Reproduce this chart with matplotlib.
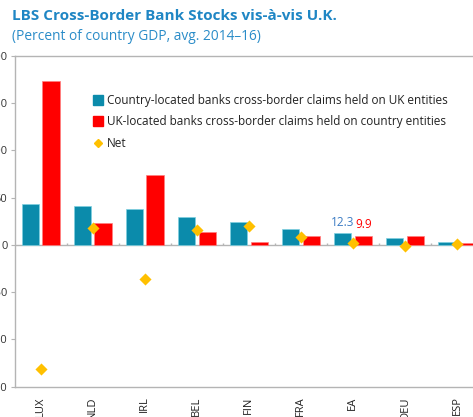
import numpy as np
import matplotlib
matplotlib.use("Agg")
import matplotlib.pyplot as plt
from matplotlib.lines import Line2D

plt.rcParams['font.family'] = ['Open Sans', 'DejaVu Sans']

countries = ["LUX", "NLD", "IRL", "BEL", "FIN", "FRA", "EA", "DEU", "ESP"]
country_claims = [43, 41, 38, 30, 24, 17, 12.3, 7.5, 3]
uk_claims = [174, 23, 74, 13.4, 3.2, 9.2, 9.9, 9.0, 2]
net = [-131, 18, -36, 16, 20, 8, 2.4, -1.5, 1]
yticks = [-150, -100, -50, 0, 50, 100, 150, 200]

BLUE = "#0b8bab"
RED = "#ff0000"
GOLD = "#ffc000"
GRID = "#b4b4b4"

fig = plt.figure(figsize=(4.73, 4.17), dpi=100)
W, H = 473, 417
ax = fig.add_axes([14.5 / W, (H - 386.7) / H, (483 - 14.5) / W, (386.7 - 56) / H])

x = np.arange(len(countries))
bw = 0.33
off = 0.2
ax.bar(x - off, country_claims, width=bw, color=BLUE, edgecolor="#7fd0e0", linewidth=0.5, zorder=2)
ax.bar(x + off, uk_claims, width=bw, color=RED, edgecolor="#ff8080", linewidth=0.5, zorder=2)
ax.scatter(x, net, marker="D", s=38, color=GOLD, zorder=3, linewidths=0)

ax.axhline(0, color=GRID, linewidth=1.0, zorder=1)
ax.vlines(np.arange(0.5, len(countries), 1), 0, 2.5, color=GRID, linewidth=1.0, zorder=1)

ax.set_xlim(-0.5, len(countries) - 0.5)
ax.set_ylim(yticks[0], yticks[-1])
ax.set_yticks(yticks)
ax.set_yticklabels([str(v) for v in yticks], fontsize=8, color="#333333")
ax.set_xticks(x)
ax.set_xticklabels(countries, rotation=90, fontsize=8, color="#222222", va="top")
ax.tick_params(axis="x", length=0, pad=7)
ax.tick_params(axis="y", length=3, color=GRID, pad=2)

for s in ["left", "top", "bottom", "right"]:
    ax.spines[s].set_color(GRID)
    ax.spines[s].set_linewidth(1.0)

# data labels for EA
ea = countries.index("EA")
ax.annotate(f"{country_claims[ea]:.1f}", (x[ea] - off, country_claims[ea]), xytext=(0, 3),
            textcoords="offset points", ha="center", va="bottom", fontsize=8.5, color="#3c7cc4")
ax.annotate(f"{uk_claims[ea]:.1f}", (x[ea] + off, uk_claims[ea]), xytext=(0, 3),
            textcoords="offset points", ha="center", va="bottom", fontsize=8.5, color=RED)

handles = [
    Line2D([], [], marker="s", linestyle="none", color=BLUE, markersize=6.5),
    Line2D([], [], marker="s", linestyle="none", color=RED, markersize=6.5),
    Line2D([], [], marker="D", linestyle="none", color=GOLD, markersize=4.5),
]
labels = [
    "Country-located banks cross-border claims held on UK entities",
    "UK-located banks cross-border claims held on country entities",
    "Net",
]
fig.legend(handles, labels, loc="upper left", bbox_to_anchor=(94 / W, 1 - 94 / H),
           frameon=False, fontsize=8.5, handlelength=0.6, handletextpad=0.5,
           labelspacing=0.72, borderaxespad=0, borderpad=0, labelcolor="#222222")

fig.text(12 / W, 1 - 16 / H, "LBS Cross-Border Bank Stocks vis-à-vis U.K.", fontsize=11,
         fontweight="bold", color="#1f86c4", va="center", ha="left")
fig.text(12 / W, 1 - 36 / H, "(Percent of country GDP, avg. 2014–16)", fontsize=9.9,
         color="#2a8cc8", va="center", ha="left")

fig.savefig("out.png", dpi=100)
